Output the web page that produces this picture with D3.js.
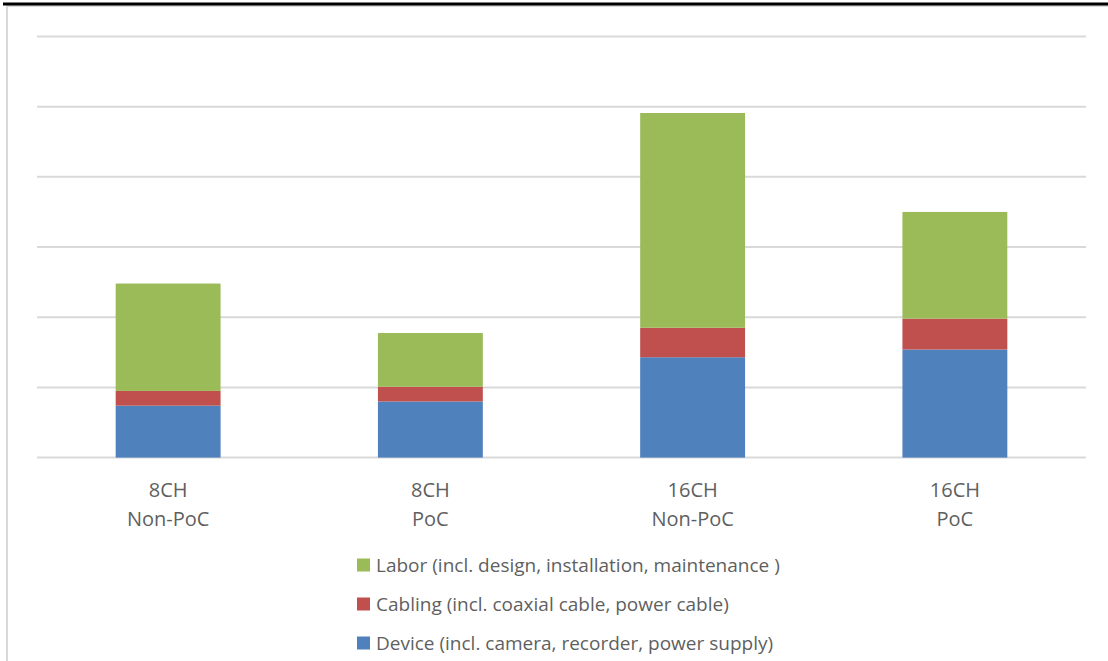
<!DOCTYPE html>
<html>
<head>
<meta charset="utf-8">
<script src="https://cdn.jsdelivr.net/npm/d3@7"></script>
<style>
  body { margin: 0; background: #fff; }
  svg text { font-family: "Open Sans", "Noto Sans", sans-serif; fill: #5f5f5f; }
</style>
</head>
<body>
<svg id="chart" width="1108" height="661"></svg>
<script>
// Chart data (unit = one gridline step)
const categories = ["8CH\nNon-PoC", "8CH\nPoC", "16CH\nNon-PoC", "16CH\nPoC"];
const seriesKeys = ["device", "cabling", "labor"];
const device = [0.74, 0.80, 1.43, 1.54];
const cabling = [0.21, 0.21, 0.42, 0.44];
const labor = [1.53, 0.765, 3.06, 1.52];
const yTicks = [0, 1, 2, 3, 4, 5, 6];
const legendLabels = [
  ["labor", "Labor (incl. design, installation, maintenance )"],
  ["cabling", "Cabling (incl. coaxial cable, power cable)"],
  ["device", "Device (incl. camera, recorder, power supply)"]
];

const colors = {
  device: "#4F81BD",
  cabling: "#C0504D",
  labor: "#9BBB59"
};

const svg = d3.select("#chart");

const plot = { left: 37, right: 1086, top: 36.5, bottom: 457.6 };

// frame lines
svg.append("rect")
  .attr("x", 7).attr("y", 6)
  .attr("width", 1200).attr("height", 700)
  .attr("fill", "none")
  .attr("stroke", "#d9d9d9")
  .attr("stroke-width", 2);

svg.append("line")
  .attr("x1", 3).attr("x2", 1108)
  .attr("y1", 4).attr("y2", 4)
  .attr("stroke", "#000")
  .attr("stroke-width", 3);

const table = categories.map((c, i) => ({
  cat: c,
  device: device[i],
  cabling: cabling[i],
  labor: labor[i]
}));

const stacked = d3.stack().keys(seriesKeys)(table);

const x = d3.scaleBand()
  .domain(categories)
  .range([plot.left, plot.right])
  .paddingInner(0.6)
  .paddingOuter(0.3);

const y = d3.scaleLinear()
  .domain([0, 6])
  .range([plot.bottom, plot.top]);

// gridlines
svg.append("g")
  .selectAll("line")
  .data(yTicks)
  .enter()
  .append("line")
  .attr("x1", plot.left)
  .attr("x2", plot.right)
  .attr("y1", d => y(d))
  .attr("y2", d => y(d))
  .attr("stroke", "#d9d9d9")
  .attr("stroke-width", 2);

// bars
svg.append("g")
  .selectAll("g.series")
  .data(stacked)
  .enter()
  .append("g")
  .attr("class", "series")
  .attr("fill", d => colors[d.key])
  .selectAll("rect")
  .data(d => d)
  .enter()
  .append("rect")
  .attr("x", d => x(d.data.cat))
  .attr("width", x.bandwidth())
  .attr("y", d => y(d[1]))
  .attr("height", d => y(d[0]) - y(d[1]));

// x axis labels
const xAxis = d3.axisBottom(x).tickSize(0).tickFormat("");
const axisGroup = svg.append("g")
  .attr("transform", "translate(0," + plot.bottom + ")")
  .call(xAxis);
axisGroup.select(".domain").remove();

axisGroup.selectAll(".tick")
  .append("text")
  .attr("text-anchor", "middle")
  .style("font-size", "20px")
  .selectAll("tspan")
  .data(d => d.split("\n"))
  .enter()
  .append("tspan")
  .attr("x", 0)
  .attr("y", (d, i) => 39.5 + i * 29)
  .text(d => d);

// legend
const legend = svg.append("g")
  .attr("transform", "translate(357, 565)");

const items = legend.selectAll("g")
  .data(legendLabels)
  .enter()
  .append("g")
  .attr("transform", (d, i) => "translate(0," + i * 39 + ")");

items.append("rect")
  .attr("x", 0).attr("y", -6.5)
  .attr("width", 13).attr("height", 13)
  .attr("fill", d => colors[d[0]]);

items.append("text")
  .attr("x", 19)
  .attr("dy", "0.35em")
  .style("font-size", "19px")
  .text(d => d[1]);
</script>
</body>
</html>
